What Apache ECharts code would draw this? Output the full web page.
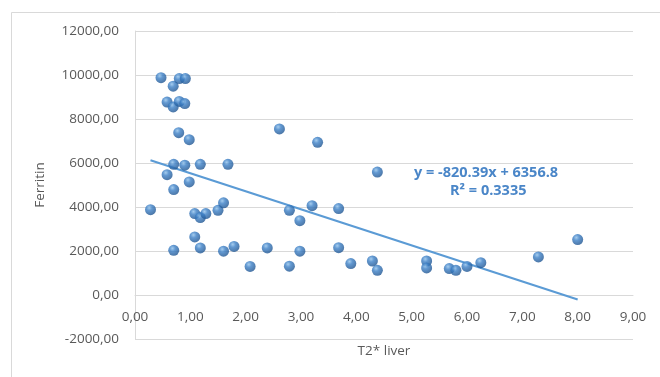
<!DOCTYPE html>
<html>
<head>
<meta charset="utf-8">
<script src="https://cdn.jsdelivr.net/npm/echarts@6/dist/echarts.min.js"></script>
<style>html,body{margin:0;padding:0;background:#fff;}#c{width:660px;height:377px;}</style>
</head>
<body>
<div id="c"></div>
<script>
const xValues = [0.28,0.47,0.58,0.58,0.69,0.69,0.70,0.70,0.70,0.80,0.80,0.79,0.91,0.90,0.90,0.98,0.98,1.08,1.08,1.18,1.18,1.18,1.28,1.50,1.60,1.60,1.68,1.79,2.08,2.39,2.61,2.79,2.79,2.98,2.98,3.20,3.30,3.68,3.68,3.90,4.29,4.38,4.38,5.27,5.27,5.68,5.80,6.00,6.25,7.29,8.00];
const yValues = [3880,9880,8770,5470,9490,8550,5940,4790,2030,9840,8800,7380,9840,8700,5900,7060,5140,3700,2640,3520,5940,2140,3700,3850,4190,1990,5940,2210,1300,2140,7550,3850,1310,3380,1990,4060,6940,3930,2150,1430,1545,1120,5590,1545,1230,1200,1120,1300,1470,1730,2520];
const trendSlope = -820.39;
const trendIntercept = 6356.8;
const trendLabel = ['y = -820.39x + 6356.8', 'R² = 0.3335'];
const xName = 'T2* liver';
const yName = 'Ferritin';

const points = xValues.map((x, i) => [x, yValues[i]]);
const xMin = Math.min(...xValues), xMax = Math.max(...xValues);
const trend = [[xMin, trendSlope * xMin + trendIntercept], [xMax, trendSlope * xMax + trendIntercept]];
const fmt = v => v.toFixed(2).replace('.', ',');
const font = '"Open Sans", "Noto Sans", sans-serif';

const chart = echarts.init(document.getElementById('c'));
chart.setOption({
  animation: false,
  backgroundColor: '#fff',
  grid: { left: 135, right: 27, top: 31, bottom: 38, outerBoundsMode: 'none', containLabel: false },
  graphic: [{
    type: 'rect', left: 9, top: 10,
    shape: { width: 700, height: 400 },
    style: { fill: 'none', stroke: '#d9d9d9', lineWidth: 1 }, silent: true
  }, {
    type: 'text', left: 414, top: 165,
    style: { text: trendLabel[0], fill: '#4a86c8', font: 'bold 14.5px ' + font }
  }, {
    type: 'text', left: 450, top: 183,
    style: { text: trendLabel[1], fill: '#4a86c8', font: 'bold 14.5px ' + font }
  }],
  xAxis: {
    type: 'value', min: 0, max: 9, interval: 1, offset: -44,
    name: xName, nameLocation: 'middle', nameGap: 49,
    nameTextStyle: { color: '#595959', fontSize: 13.5, fontFamily: font },
    axisLine: { show: true, onZero: false, lineStyle: { color: '#d9d9d9' } },
    axisTick: { show: false },
    splitLine: { show: false },
    axisLabel: { formatter: fmt, color: '#595959', fontSize: 13.5, fontFamily: font, margin: 15 }
  },
  yAxis: {
    type: 'value', min: -2000, max: 12000, interval: 2000,
    name: yName, nameLocation: 'middle', nameGap: 88,
    nameTextStyle: { color: '#595959', fontSize: 13.5, fontFamily: font },
    axisLine: { show: true, onZero: false, lineStyle: { color: '#d9d9d9' } },
    axisTick: { show: false },
    splitLine: { lineStyle: { color: '#d9d9d9' } },
    axisLabel: { formatter: fmt, color: '#595959', fontSize: 13.5, fontFamily: font, margin: 16 }
  },
  series: [{
    type: 'line', data: trend, symbol: 'none', z: 1,
    lineStyle: { color: '#5b9bd5', width: 2.2 }
  }, {
    type: 'scatter', data: points, symbolSize: 11, z: 2,
    itemStyle: {
      color: {
        type: 'radial', x: 0.38, y: 0.32, r: 0.75,
        colorStops: [{ offset: 0, color: '#8fc0ea' }, { offset: 0.35, color: '#3b7fc6' }, { offset: 1, color: '#1b4f8a' }]
      }
    }
  }]
});
</script>
</body>
</html>
